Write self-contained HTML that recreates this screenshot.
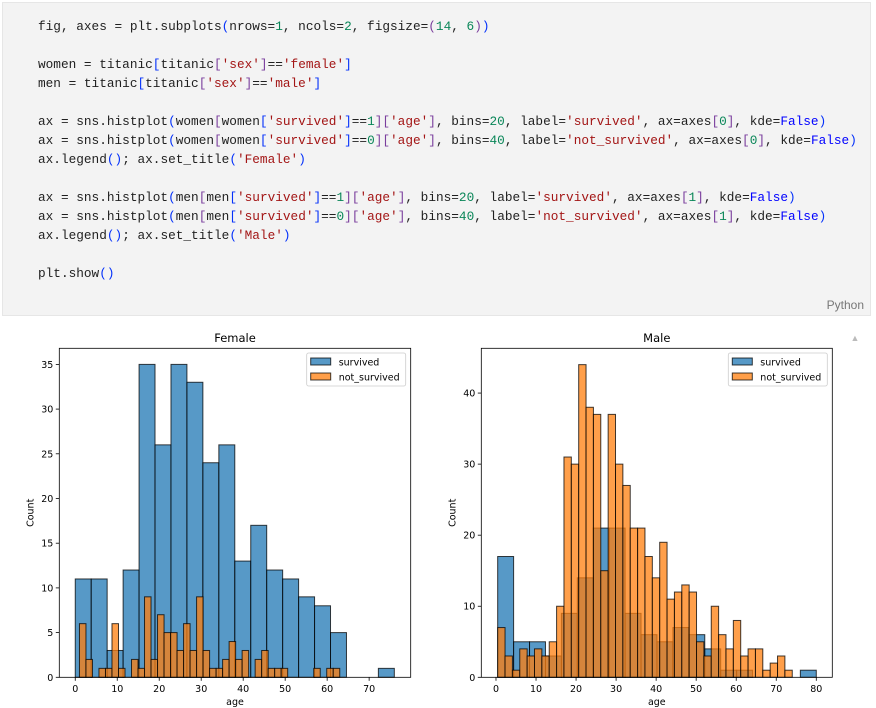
<!DOCTYPE html>
<html><head><meta charset="utf-8">
<style>
body{margin:0;width:876px;height:708px;background:#fff;overflow:hidden;position:relative;font-family:"Liberation Sans",sans-serif}
#code{position:absolute;left:2px;top:2px;width:869px;height:314px;background:#f3f3f3;border:1px solid #e6e6e6;box-sizing:border-box}
pre{margin:0;position:absolute;left:35px;top:14px;font-family:"Liberation Mono",monospace;font-size:12.75px;line-height:19px;color:#1f1f1f}
.s{color:#a31515}.n{color:#098658}.p{color:#0431fa}.b{color:#7a3e9d}.k{color:#0000ff}
#lang{position:absolute;right:6px;bottom:3px;font-size:12px;color:#777}
svg{position:absolute;left:0;top:0}
</style></head><body>
<div id="code">
<pre>fig, axes = plt.subplots<span class="p">(</span>nrows=<span class="n">1</span>, ncols=<span class="n">2</span>, figsize=<span class="b">(</span><span class="n">14</span>, <span class="n">6</span><span class="b">)</span><span class="p">)</span>

women = titanic<span class="p">[</span>titanic<span class="b">[</span><span class="s">'sex'</span><span class="b">]</span>==<span class="s">'female'</span><span class="p">]</span>
men = titanic<span class="p">[</span>titanic<span class="b">[</span><span class="s">'sex'</span><span class="b">]</span>==<span class="s">'male'</span><span class="p">]</span>

ax = sns.histplot<span class="p">(</span>women<span class="b">[</span>women<span class="p">[</span><span class="s">'survived'</span><span class="p">]</span>==<span class="n">1</span><span class="b">][</span><span class="s">'age'</span><span class="b">]</span>, bins=<span class="n">20</span>, label=<span class="s">'survived'</span>, ax=axes<span class="b">[</span><span class="n">0</span><span class="b">]</span>, kde=<span class="k">False</span><span class="p">)</span>
ax = sns.histplot<span class="p">(</span>women<span class="b">[</span>women<span class="p">[</span><span class="s">'survived'</span><span class="p">]</span>==<span class="n">0</span><span class="b">][</span><span class="s">'age'</span><span class="b">]</span>, bins=<span class="n">40</span>, label=<span class="s">'not_survived'</span>, ax=axes<span class="b">[</span><span class="n">0</span><span class="b">]</span>, kde=<span class="k">False</span><span class="p">)</span>
ax.legend<span class="p">()</span>; ax.set_title<span class="p">(</span><span class="s">'Female'</span><span class="p">)</span>

ax = sns.histplot<span class="p">(</span>men<span class="b">[</span>men<span class="p">[</span><span class="s">'survived'</span><span class="p">]</span>==<span class="n">1</span><span class="b">][</span><span class="s">'age'</span><span class="b">]</span>, bins=<span class="n">20</span>, label=<span class="s">'survived'</span>, ax=axes<span class="b">[</span><span class="n">1</span><span class="b">]</span>, kde=<span class="k">False</span><span class="p">)</span>
ax = sns.histplot<span class="p">(</span>men<span class="b">[</span>men<span class="p">[</span><span class="s">'survived'</span><span class="p">]</span>==<span class="n">0</span><span class="b">][</span><span class="s">'age'</span><span class="b">]</span>, bins=<span class="n">40</span>, label=<span class="s">'not_survived'</span>, ax=axes<span class="b">[</span><span class="n">1</span><span class="b">]</span>, kde=<span class="k">False</span><span class="p">)</span>
ax.legend<span class="p">()</span>; ax.set_title<span class="p">(</span><span class="s">'Male'</span><span class="p">)</span>

plt.show<span class="p">()</span></pre>
<div id="lang">Python</div>
</div>
<svg id="chart" width="876" height="708"></svg>
<script>
const femSurvRange=[0,76];
const femSurv=[11,11,3,12,35,26,35,33,24,26,13,17,12,11,9,8,5,0,0,1];
const femDeadRange=[1,63];
const femDead=[6,2,0,1,1,6,1,0,2,1,9,2,7,5,5,3,6,3,9,3,1,1,2,4,2,3,0,2,3,1,1,1,0,0,0,0,1,0,1,1];
const femYTicks=[0,5,10,15,20,25,30,35];
const femXTicks=[0,10,20,30,40,50,60,70];
const maleSurvRange=[0.42,80];
const maleSurv=[17,5,5,3,9,14,21,21,9,6,5,7,6,4,1,1,0,0,0,1];
const maleDeadRange=[0.42,74];
const maleDead=[7,3,1,4,3,4,3,5,10,31,30,44,38,37,15,37,30,27,21,21,17,14,19,11,12,13,12,5,3,10,6,4,8,3,4,4,1,2,3,1];
const maleYTicks=[0,10,20,30,40];
const maleXTicks=[0,10,20,30,40,50,60,70,80];

const NS='http://www.w3.org/2000/svg';
const svg=document.getElementById('chart');
function mk(tag,attrs,parent,text){const e=document.createElementNS(NS,tag);for(const k in attrs)e.setAttribute(k,attrs[k]);if(text!==undefined)e.textContent=text;(parent||svg).appendChild(e);return e;}

function panel(cfg){
  const g=mk('g',{});
  
  
  const L=cfg.left,R=cfg.right,T=348.3,B=677.3;
  const sx=v=>L+(v-cfg.xmin)/(cfg.xmax-cfg.xmin)*(R-L);
  const sy=v=>B-v/cfg.ymax*(B-T);
  function hist(vals,range,fill,label){
    const w=(range[1]-range[0])/vals.length;
    vals.forEach((v,i)=>{
      if(v<=0)return;
      const x0=sx(range[0]+i*w),x1=sx(range[0]+(i+1)*w);
      const r=mk('rect',{x:x0,y:sy(v),width:x1-x0,height:B-sy(v),fill:fill,'fill-opacity':0.75,stroke:'#000','stroke-opacity':0.75,'stroke-width':1},g);
      
      
    });
  }
  hist(cfg.surv,cfg.survRange,'#1f77b4','survived');
  hist(cfg.dead,cfg.deadRange,'#ff7f0e','not-survived');
  const frame=mk('rect',{x:L,y:T,width:R-L,height:B-T,fill:'none',stroke:'#000','stroke-width':0.8},g);
  
  
  cfg.yticks.forEach(t=>{
    const y=sy(t);
    mk('line',{x1:L-3.5,x2:L,y1:y,y2:y,stroke:'#000','stroke-width':0.8},g);
    const tx=mk('text',{x:L-6,y:y+3.5,'text-anchor':'end','font-size':9.5,'font-family':'DejaVu Sans, sans-serif'},g,t);
    
    
  });
  cfg.xticks.forEach(t=>{
    const x=sx(t);
    mk('line',{x1:x,x2:x,y1:B,y2:B+3.5,stroke:'#000','stroke-width':0.8},g);
    const tx=mk('text',{x:x,y:B+14.5,'text-anchor':'middle','font-size':9.5,'font-family':'DejaVu Sans, sans-serif'},g,t);
    
    
  });
  const cx=(L+R)/2;
  const ti=mk('text',{x:cx,y:342,'text-anchor':'middle','font-size':11.5,'font-family':'DejaVu Sans, sans-serif'},g,cfg.title);
  
  
  const xl=mk('text',{x:cx,y:705,'text-anchor':'middle','font-size':9.5,'font-family':'DejaVu Sans, sans-serif'},g,'age');
  
  
  const yx=L-26;
  const yl=mk('text',{x:yx,y:(T+B)/2,'text-anchor':'middle','font-size':9.5,'font-family':'DejaVu Sans, sans-serif',transform:`rotate(-90 ${yx} ${(T+B)/2})`},g,'Count');
  
  
  const lx=R-104,ly=353;
  const lg=mk('g',{},g);
  
  
  mk('rect',{x:lx,y:ly,width:99,height:33,rx:2,fill:'#fff','fill-opacity':0.8,stroke:'#ccc','stroke-width':0.8},lg);
  [['survived','#1f77b4'],['not_survived','#ff7f0e']].forEach((e,i)=>{
    const yy=ly+5+i*15;
    mk('rect',{x:lx+4,y:yy,width:20,height:7,fill:e[1],'fill-opacity':0.75,stroke:'#000','stroke-opacity':0.75},lg);
    const t=mk('text',{x:lx+32,y:yy+7.5,'font-size':9.5,'font-family':'DejaVu Sans, sans-serif'},lg,e[0]);
    
    
  });
}
panel({name:'female',title:'Female',left:59.3,right:410.7,xmin:-3.8,xmax:79.9,ymax:36.8,
  surv:femSurv,survRange:femSurvRange,dead:femDead,deadRange:femDeadRange,yticks:femYTicks,xticks:femXTicks});
panel({name:'male',title:'Male',left:481.3,right:832.3,xmin:-3.67,xmax:84,ymax:46.3,
  surv:maleSurv,survRange:maleSurvRange,dead:maleDead,deadRange:maleDeadRange,yticks:maleYTicks,xticks:maleXTicks});
const arr=mk('text',{x:855,y:341,'text-anchor':'middle','font-size':9,fill:'#bbb'},svg,'▲');


</script>
</body></html>
